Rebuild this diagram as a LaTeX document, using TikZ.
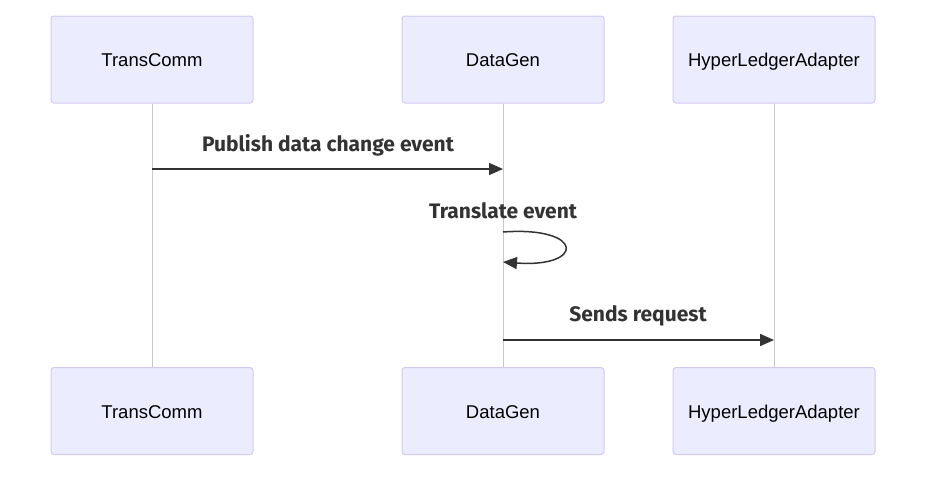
\documentclass[tikz,border=0pt]{standalone}
\usepackage{fontspec}
\setmainfont{Liberation Sans}
\newfontfamily\lblfont{Fira Sans}
\usetikzlibrary{arrows.meta}
\definecolor{actfill}{HTML}{ECECFF}
\definecolor{actline}{HTML}{D4C8F2}
\definecolor{lifeline}{HTML}{C8C8C8}
\definecolor{msgcol}{HTML}{333333}
\tikzset{
  actor/.style={draw=actline, fill=actfill, line width=1pt, rounded corners=3pt,
    minimum width=202pt, minimum height=87pt, inner sep=0pt,
    text height=15.5pt, text depth=1.5pt,
    font=\fontsize{18.5}{22}\selectfont, text=black},
  life/.style={draw=lifeline, line width=1pt},
  msg/.style={draw=msgcol, line width=1.5pt, -{Triangle[length=14pt,width=12pt]}},
  msglbl/.style={font=\lblfont\bfseries\fontsize{21}{25}\selectfont, text=msgcol}
}
\begin{document}
\begin{tikzpicture}[x=1pt,y=-1pt]
\useasboundingbox (0,0) rectangle (930,483);
\node[actor] (t1) at (152,59.5) {TransComm};
\node[actor] (d1) at (503,59.5) {DataGen};
\node[actor] (h1) at (774,59.5) {HyperLedgerAdapter};
\node[actor] (t2) at (152,411) {TransComm};
\node[actor] (d2) at (503,411) {DataGen};
\node[actor] (h2) at (774,411) {HyperLedgerAdapter};
\draw[life] (t1.south) -- (t2.north);
\draw[life] (d1.south) -- (d2.north);
\draw[life] (h1.south) -- (h2.north);
\coordinate (a1s) at (152,169);
\coordinate (a1e) at (503,169);
\draw[msg] (a1s) -- (a1e);
\node[msglbl] (l1) at (328,145) {Publish data change event};
\coordinate (s1) at (503,232);
\coordinate (s2) at (503,262);
\draw[msg] (s1) .. controls (585,226) and (585,268) .. (s2);
\node[msglbl] (l2) at (503,211) {Translate event};
\coordinate (a2s) at (503,340);
\coordinate (a2e) at (774,340);
\draw[msg] (a2s) -- (a2e);
\node[msglbl] (l3) at (638,316) {Sends request};
\end{tikzpicture}
\end{document}
